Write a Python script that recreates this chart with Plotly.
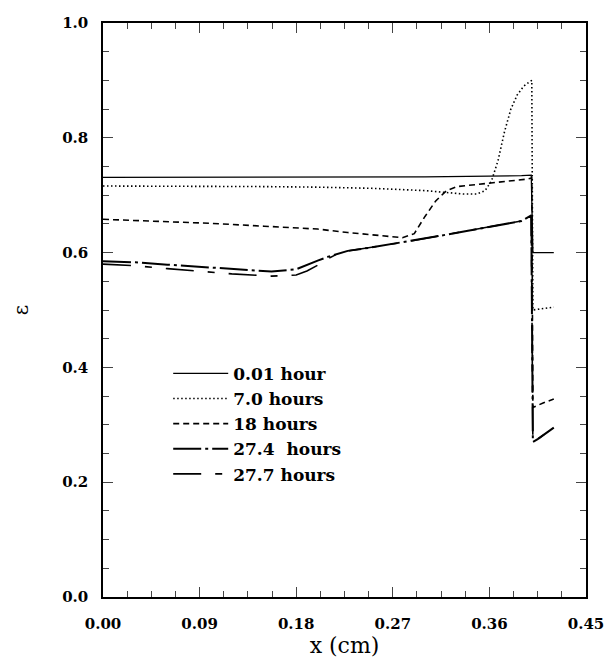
import plotly.graph_objects as go

# Porosity profiles epsilon(x) across the electrode at several times
x_001 = [0.0, 0.10, 0.20, 0.30, 0.39, 0.399, 0.4005, 0.42]
eps_001 = [0.731, 0.731, 0.731, 0.732, 0.734, 0.735, 0.600, 0.600]

x_070 = [0.0, 0.05, 0.10, 0.15, 0.20, 0.25, 0.30, 0.336, 0.348, 0.356, 0.362, 0.368,
         0.374, 0.38, 0.386, 0.392, 0.397, 0.3995, 0.4005, 0.41, 0.42]
eps_070 = [0.716, 0.716, 0.716, 0.715, 0.714, 0.712, 0.708, 0.702, 0.702, 0.708, 0.725, 0.76,
           0.81, 0.85, 0.875, 0.89, 0.897, 0.900, 0.500, 0.503, 0.505]

x_180 = [0.0, 0.05, 0.10, 0.15, 0.20, 0.228, 0.26, 0.279, 0.29, 0.30, 0.31, 0.32, 0.33,
         0.34, 0.36, 0.38, 0.395, 0.3995, 0.4005, 0.41, 0.42]
eps_180 = [0.658, 0.655, 0.651, 0.646, 0.641, 0.635, 0.630, 0.626, 0.633, 0.663, 0.690, 0.708, 0.715,
           0.717, 0.720, 0.724, 0.728, 0.730, 0.330, 0.338, 0.345]

x_274 = [0.0, 0.03, 0.06, 0.09, 0.12, 0.157, 0.18, 0.19, 0.20, 0.21, 0.22, 0.228, 0.25,
         0.28, 0.31, 0.34, 0.37, 0.39, 0.399, 0.4005, 0.405, 0.42]
eps_274 = [0.585, 0.583, 0.579, 0.575, 0.571, 0.567, 0.571, 0.579, 0.586, 0.593, 0.599, 0.603, 0.609,
           0.618, 0.628, 0.638, 0.648, 0.655, 0.665, 0.270, 0.275, 0.295]

x_277 = [0.0, 0.03, 0.06, 0.09, 0.12, 0.157, 0.18, 0.19, 0.20, 0.21, 0.22, 0.228, 0.25,
         0.28, 0.31, 0.34, 0.37, 0.39, 0.399, 0.4005, 0.405, 0.42]
eps_277 = [0.580, 0.577, 0.572, 0.567, 0.563, 0.559, 0.561, 0.568, 0.578, 0.590, 0.599, 0.603, 0.609,
           0.618, 0.628, 0.638, 0.648, 0.655, 0.665, 0.270, 0.275, 0.295]

labels = ["0.01 hour", "7.0 hours", "18 hours", "27.4  hours", "27.7 hours"]
xs = [x_001, x_070, x_180, x_274, x_277]
ys = [eps_001, eps_070, eps_180, eps_274, eps_277]
dashes = ["solid", "1.5px,2.5px", "6px,4px", "28px,4px,3px,4px", "28px,14px,7px,14px"]
widths = [1.3, 1.6, 1.6, 2.0, 1.6]

fig = go.Figure()
for xv, yv, name, d, w in zip(xs, ys, labels, dashes, widths):
    fig.add_trace(go.Scatter(x=xv, y=yv, mode="lines", name=name,
                             line=dict(color="black", width=w, dash=d)))

tick_font = dict(family="DejaVu Serif", size=15, color="black", weight="bold")

fig.update_layout(
    width=616, height=664,
    margin=dict(l=103, r=26, t=23, b=63),
    paper_bgcolor="white", plot_bgcolor="white",
    showlegend=True,
    legend=dict(x=0.135, y=0.42, xanchor="left", yanchor="top",
                font=dict(family="DejaVu Serif", size=17, color="black", weight="bold"),
                bgcolor="rgba(0,0,0,0)", tracegroupgap=0, itemwidth=55),
    xaxis=dict(range=[0, 0.45], tickvals=[0, 0.09, 0.18, 0.27, 0.36, 0.45],
               tickformat=".2f", ticks="inside", ticklen=10, tickwidth=1.3,
               ticklabelstandoff=12,
               showline=True, linecolor="black", linewidth=1.5, mirror="ticks",
               showgrid=False, zeroline=False, tickfont=tick_font,
               minor=dict(ticks="inside", ticklen=6, dtick=0.0225, tick0=0,
                          tickwidth=1.2, showgrid=False),
               title=dict(text="x (cm)", standoff=4,
                          font=dict(family="DejaVu Serif", size=22, color="black"))),
    yaxis=dict(range=[0, 1.0], tickvals=[0, 0.2, 0.4, 0.6, 0.8, 1.0],
               tickformat=".1f", ticks="inside", ticklen=10, tickwidth=1.3,
               ticklabelstandoff=10,
               showline=True, linecolor="black", linewidth=1.5, mirror="ticks",
               showgrid=False, zeroline=False, tickfont=tick_font,
               minor=dict(ticks="inside", ticklen=6, dtick=0.05, tick0=0,
                          tickwidth=1.2, showgrid=False),
               title=dict(text="ε", standoff=28,
                          font=dict(family="DejaVu Serif", size=20, color="black"))),
)

fig.write_html("out.html")
